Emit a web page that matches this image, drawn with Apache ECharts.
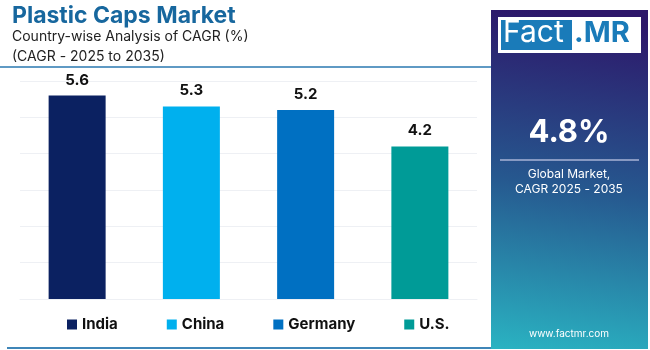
<!DOCTYPE html>
<html>
<head>
<meta charset="utf-8">
<script src="https://cdn.jsdelivr.net/npm/echarts@6/dist/echarts.min.js"></script>
<style>
  html, body { margin: 0; padding: 0; background: #fff; }
  #chart { width: 650px; height: 350px; }
</style>
</head>
<body>
<div id="chart"></div>
<script>
  // data
  const countries = ['India', 'China', 'Germany', 'U.S.']
  const cagr = [5.6, 5.3, 5.2, 4.2]
  const barColors = ['#0b2161', '#00b0ee', '#0070c2', '#009b97']
  const globalCagr = '4.8%'

  const chart = echarts.init(document.getElementById('chart'))

  // one series per country so the legend gets an entry each
  const series = countries.map((name, i) => ({
    name: name,
    type: 'bar',
    stack: 'all',
    barWidth: 57,
    data: cagr.map((v, j) => (j === i ? v : '-')),
    itemStyle: { color: barColors[i] },
    label: {
      show: true,
      position: 'top',
      distance: 8,
      color: '#111',
      fontSize: 15,
      fontWeight: 'bold',
      fontFamily: 'Inter'
    }
  }))

  const options = {
    animation: false,
    grid: { left: 20, right: 173, top: 81, bottom: 51 },
    xAxis: {
      type: 'category',
      data: countries,
      axisLine: { show: true, lineStyle: { color: '#eef0f4' } },
      axisTick: { show: false },
      axisLabel: { show: false }
    },
    yAxis: {
      type: 'value',
      min: 0,
      max: 6,
      interval: 1,
      axisLabel: { show: false },
      axisLine: { show: false },
      axisTick: { show: false },
      // 网格样式
      splitLine: { lineStyle: { color: '#eef0f4', width: 1 } }
    },
    legend: {
      left: 62,
      top: 312,
      itemWidth: 10,
      itemHeight: 10,
      itemGap: 49,
      icon: 'rect',
      textStyle: { fontSize: 15, fontWeight: 'bold', color: '#111', fontFamily: 'Inter' }
    },
    graphic: [
      // title block
      {
        type: 'text', left: 12, top: 5,
        style: { text: 'Plastic Caps Market', fill: '#17679e', font: 'bold 23px Inter' }
      },
      {
        type: 'text', left: 12, top: 30,
        style: { text: 'Country-wise Analysis of CAGR (%)', fill: '#222', font: '14px Inter' }
      },
      {
        type: 'text', left: 12, top: 50,
        style: { text: '(CAGR - 2025 to 2035)', fill: '#222', font: '14px Inter' }
      },
      {
        type: 'line', shape: { x1: 0, y1: 67, x2: 491, y2: 67 },
        style: { stroke: '#2a78b0', lineWidth: 1.5 }
      },
      {
        type: 'line', shape: { x1: 7, y1: 348, x2: 491, y2: 348 },
        style: { stroke: '#3f86b8', lineWidth: 2 }
      },
      // right panel
      {
        type: 'rect', shape: { x: 491, y: 10, width: 157, height: 339 },
        style: {
          fill: new echarts.graphic.LinearGradient(0.3, 0, 0, 1, [
            { offset: 0, color: '#2d176a' },
            { offset: 0.5, color: '#26588f' },
            { offset: 1, color: '#2ab3c2' }
          ])
        }
      },
      {
        type: 'rect', shape: { x: 498, y: 17, width: 143, height: 36 },
        style: { fill: '#ffffff' }
      },
      {
        type: 'rect', shape: { x: 501, y: 20, width: 71, height: 30 },
        style: { fill: '#1a7bb9' }
      },
      {
        type: 'text', left: 503, top: 18,
        style: { text: 'Fact', fill: '#fff', font: '30px Inter' }
      },
      {
        type: 'text', left: 574, top: 19,
        style: { text: '.MR', fill: '#1a7bb9', font: 'bold 29px Inter' }
      },
      {
        type: 'text', x: 569, y: 133,
        style: { text: globalCagr, fill: '#fff', font: 'bold 31px Inter', align: 'center', verticalAlign: 'middle' }
      },
      {
        type: 'line', shape: { x1: 500, y1: 160, x2: 639, y2: 160 },
        style: { stroke: '#a9b3d6', lineWidth: 1.5 }
      },
      {
        type: 'text', x: 569, y: 174,
        style: { text: 'Global Market,', fill: '#fff', font: '12px Inter', align: 'center', verticalAlign: 'middle' }
      },
      {
        type: 'text', x: 569, y: 189,
        style: { text: 'CAGR 2025 - 2035', fill: '#fff', font: '12px Inter', align: 'center', verticalAlign: 'middle' }
      },
      {
        type: 'text', x: 569, y: 334,
        style: { text: 'www.factmr.com', fill: '#fff', font: '10px Inter', align: 'center', verticalAlign: 'middle' }
      }
    ],
    series: series
  }

  chart.setOption(options)
</script>
</body>
</html>
